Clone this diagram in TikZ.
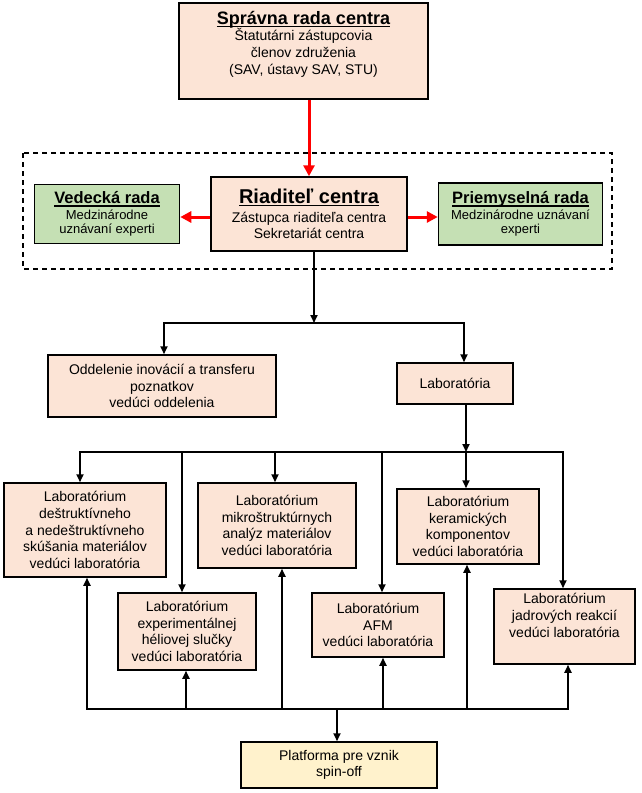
\documentclass[tikz,border=0pt]{standalone}
\usepackage{fontspec}
\setmainfont{Liberation Sans}
\usetikzlibrary{positioning,arrows.meta}

\definecolor{unitfill}{HTML}{FCE4D6}
\definecolor{boardfill}{HTML}{C5E0B4}
\definecolor{spinfill}{HTML}{FFF2CC}

\newcommand{\ulhead}[1]{\setbox0=\hbox{\bfseries #1}\leavevmode\rlap{\rule[-2.8pt]{\wd0}{1.5pt}}\box0}

\tikzset{
  unit/.style={draw, line width=1.5pt, fill=unitfill, align=center, inner sep=1pt, font=\fontsize{14}{16.7}\selectfont},
  board/.style={unit, fill=boardfill, font=\fontsize{13}{14}\selectfont},
  link/.style={-{Triangle[length=8pt,width=7pt]}, line width=1.8pt},
  redlink/.style={-{Triangle[length=11pt,width=11pt]}, line width=3pt, red},
}

\begin{document}
\begin{tikzpicture}[x=1pt, y=-1pt]
\useasboundingbox (0,0) rectangle (642,793);

% define nodes

% management
\node[unit, minimum width=249pt, minimum height=96pt] (rada) at (303.5,51) {{\fontsize{18}{20}\selectfont\ulhead{Správna rada centra}}\\ Štatutárni zástupcovia\\ členov združenia\\ (SAV, ústavy SAV, STU)\\ \mbox{}};

\node[unit, minimum width=196pt, minimum height=74pt] (riad) at (309,214) {{\fontsize{20}{22}\selectfont\ulhead{Riaditeľ centra}}\\[2pt] Zástupca riaditeľa centra\\ Sekretariát centra};
\node[board, left=30pt of riad, minimum width=145pt, minimum height=59pt] (ved) {{\fontsize{16.5}{18}\selectfont\ulhead{Vedecká rada}}\\[2pt] Medzinárodne\\ uznávaní experti};
\node[board, right=30pt of riad, minimum width=164pt, minimum height=62pt] (priem) {{\fontsize{16.5}{18}\selectfont\ulhead{Priemyselná rada}}\\[2pt] Medzinárodne uznávaní\\ experti};

\draw[dashed, line width=1.2pt, dash pattern=on 5pt off 4pt] (23,153) rectangle (612,269);

% departments
\node[unit, minimum width=228pt, minimum height=62pt] (odd) at (162,386) {Oddelenie inovácií a transferu\\ poznatkov\\ vedúci oddelenia};
\node[unit, minimum width=116pt, minimum height=41pt] (lab) at (455,383.5) {Laboratória};

% laboratories
\node[unit, minimum width=162pt, minimum height=94pt] (l1) at (85,530) {Laboratórium\\ deštruktívneho\\ a nedeštruktívneho\\ skúšania materiálov\\ vedúci laboratória};
\node[unit, minimum width=138pt, minimum height=77pt] (l2) at (187,631.5) {Laboratórium\\ experimentálnej\\ héliovej slučky\\ vedúci laboratória};
\node[unit, minimum width=158pt, minimum height=85pt] (l3) at (277,525.5) {Laboratórium\\ mikroštruktúrnych\\ analýz materiálov\\ vedúci laboratória};
\node[unit, minimum width=132pt, minimum height=64pt] (l4) at (378,625) {Laboratórium\\ AFM\\ vedúci laboratória};
\node[unit, minimum width=142pt, minimum height=75pt] (l5) at (468,526.5) {Laboratórium\\ keramických\\ komponentov\\ vedúci laboratória};
\node[unit, minimum width=141pt, minimum height=75pt] (l6) at (564.5,626.5) {Laboratórium\\ jadrových reakcií\\ vedúci laboratória\\[6pt]};

\node[unit, fill=spinfill, minimum width=196pt, minimum height=46pt] (spin) at (339,765) {Platforma pre vznik\\ spin-off};

\coordinate (split) at (314,323);
\coordinate (labsplit) at (466,452);
\coordinate (spinsplit) at (337,709);

% edges

\draw[redlink] (rada.south -| riad.north) -- (riad.north);
\draw[redlink] ([yshift=-3pt]riad.west) -- ([yshift=-3pt]riad.west -| ved.east);
\draw[redlink] ([yshift=-3pt]riad.east) -- ([yshift=-3pt]riad.east -| priem.west);

\draw[link] (riad.south -| split) -- (split);
\draw[link] (split) -| ([xshift=2pt]odd.north);
\draw[link] (split) -| ([xshift=9pt]lab.north);

\draw[link] (lab.south -| labsplit) -- (labsplit);
\draw[link] (labsplit) -| ([xshift=-5pt]l1.north);
\draw[link] (labsplit) -| ([xshift=-5pt]l2.north);
\draw[link] (labsplit) -| ([xshift=-2pt]l3.north);
\draw[link] (labsplit) -| ([xshift=4pt]l4.north);
\draw[link] (labsplit) -| ([xshift=-2pt]l5.north);
\draw[link] (labsplit) -| ([xshift=-1.5pt]l6.north);

\draw[link] (spinsplit) -| ([xshift=2pt]l1.south);
\draw[link] (spinsplit) -| ([xshift=-1pt]l2.south);
\draw[link] (spinsplit) -| ([xshift=5pt]l3.south);
\draw[link] (spinsplit) -| ([xshift=5pt]l4.south);
\draw[link] (spinsplit) -| ([xshift=-1pt]l5.south);
\draw[link] (spinsplit) -| ([xshift=3.5pt]l6.south);
\draw[link] (spinsplit) -- (spinsplit |- spin.north);

\end{tikzpicture}
\end{document}
